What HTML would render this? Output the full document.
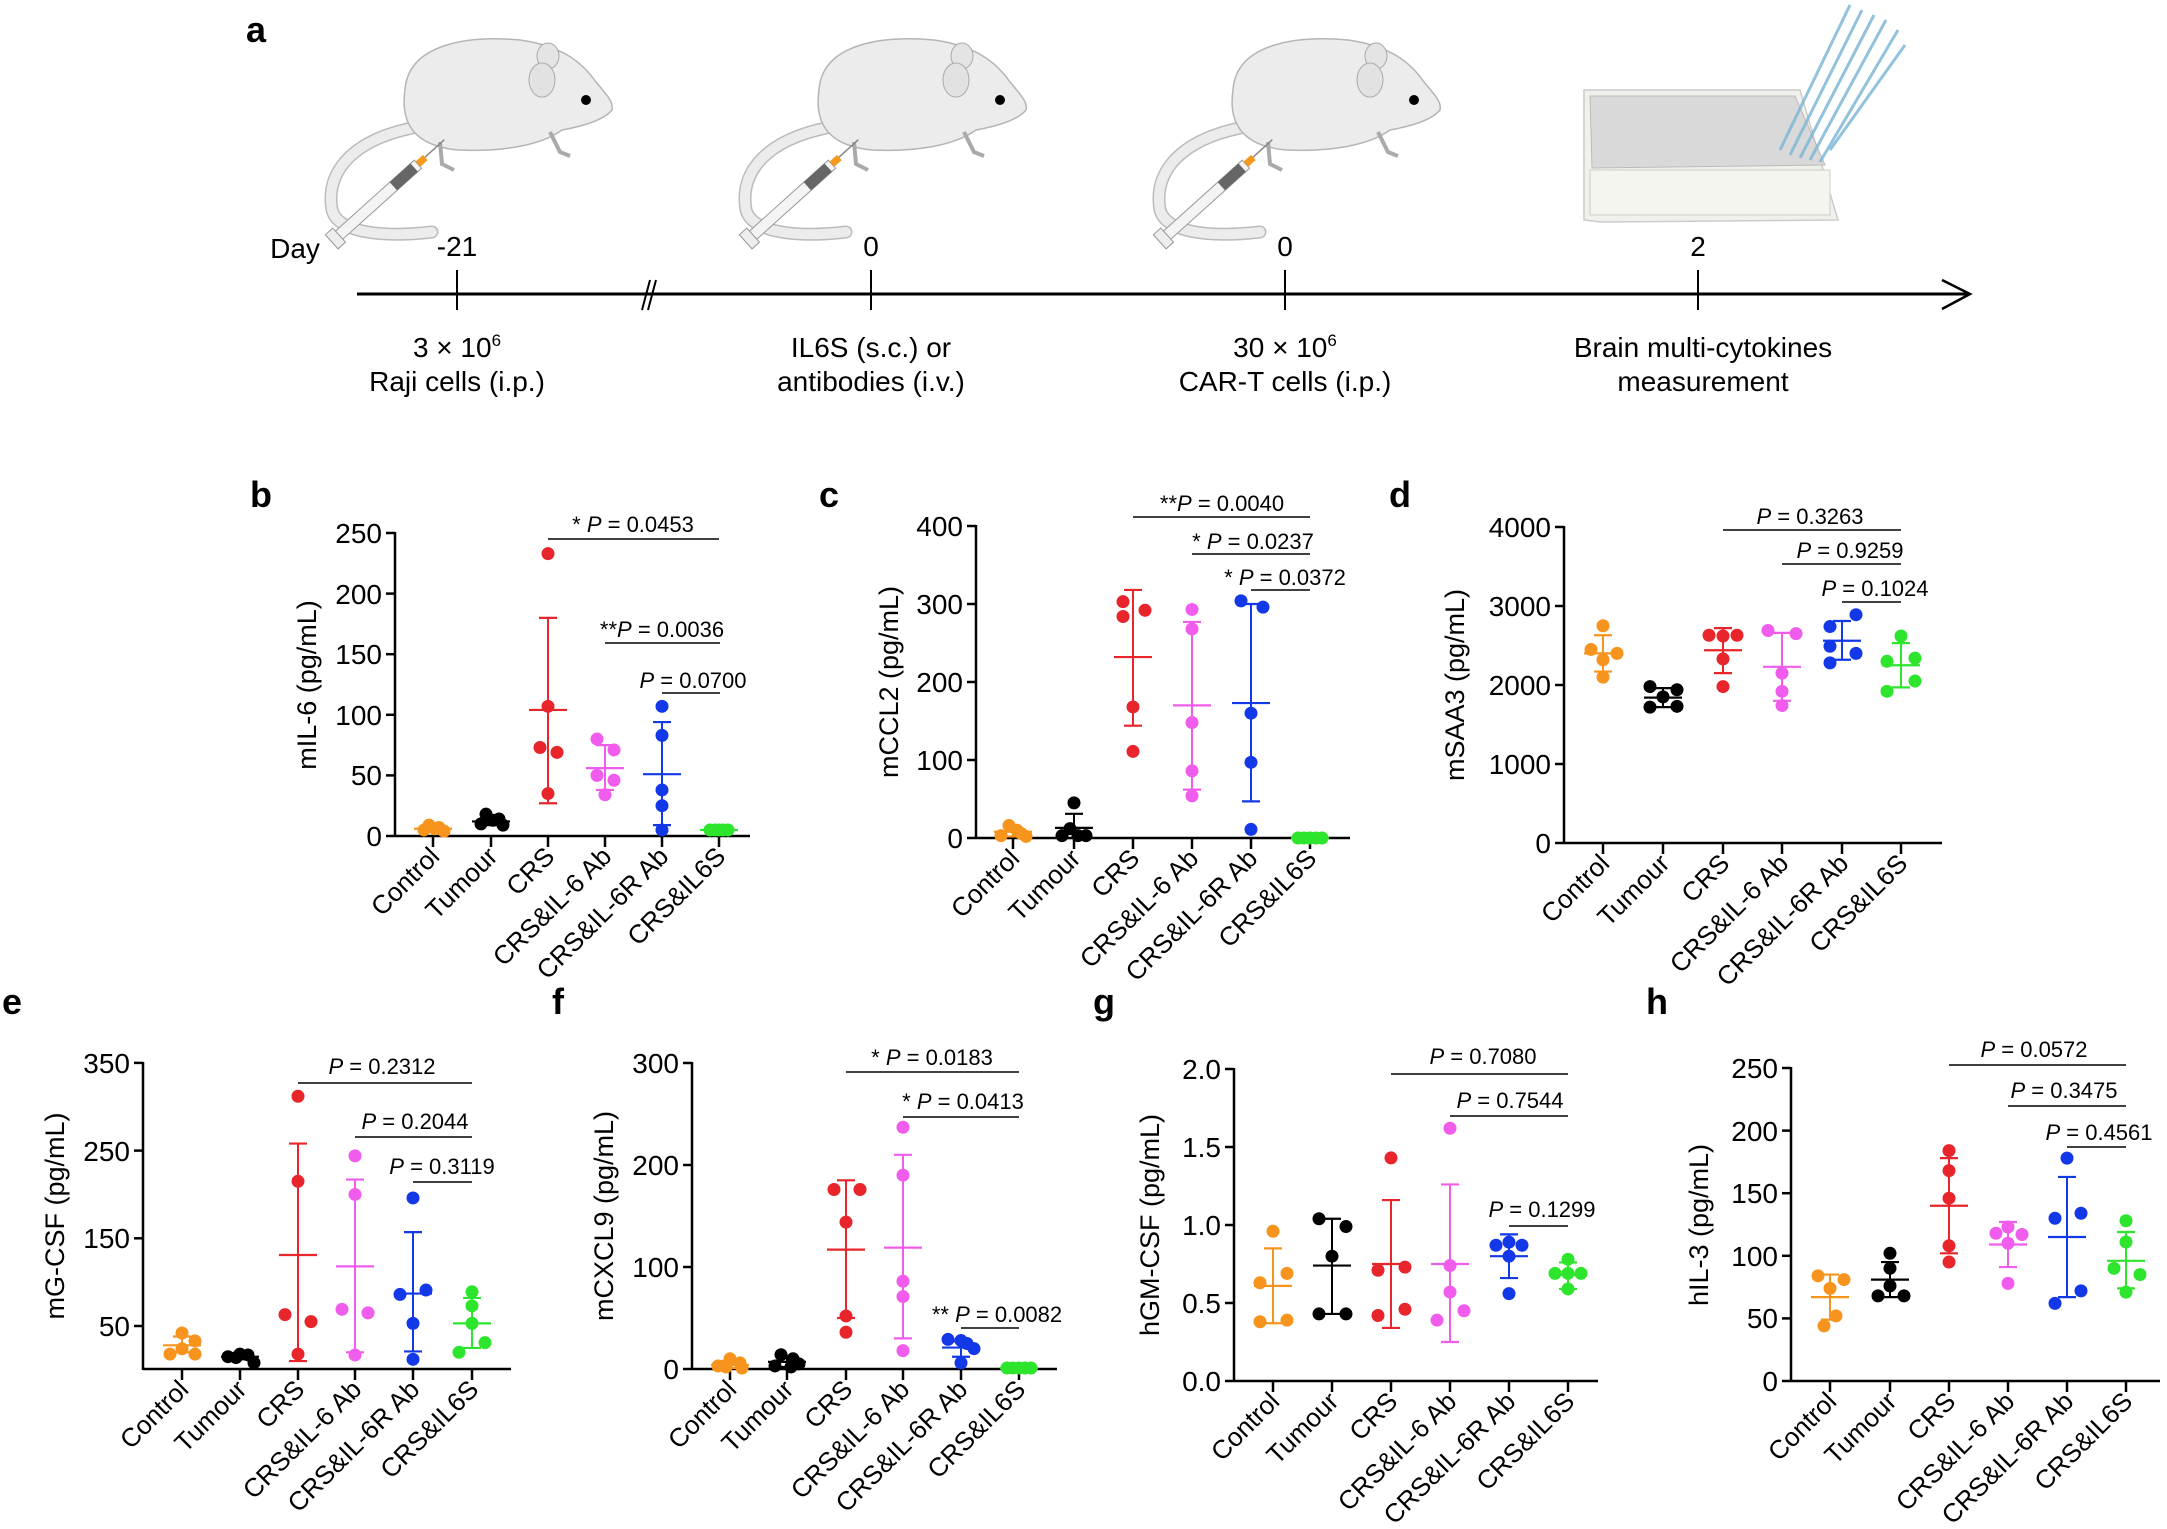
<!DOCTYPE html>
<html><head><meta charset="utf-8"><style>
html,body{margin:0;padding:0;background:#fff;}
svg{display:block;font-family:"Liberation Sans",Arial,sans-serif;}
.tk{font-size:28px;text-anchor:end;}
.yl{font-size:27px;text-anchor:middle;}
.cl{font-size:26px;text-anchor:end;}
.pv{font-size:22px;text-anchor:middle;}
.lt{font-size:36px;font-weight:bold;}
.tl{font-size:28px;text-anchor:middle;}
</style></head><body>
<svg id="s" width="2167" height="1529" viewBox="0 0 2167 1529" xmlns="http://www.w3.org/2000/svg">
<defs>
<g id="mouse">
 <path d="M412,128 C355,140 325,170 332,210 C338,232 380,238 432,232" fill="none" stroke="#bbb" stroke-width="13" stroke-linecap="round"/>
 <path d="M412,128 C355,140 325,170 332,210 C338,232 380,238 432,232" fill="none" stroke="#ececec" stroke-width="10" stroke-linecap="round"/>
 <path d="M405,90 C408,45 465,35 520,40 C562,46 582,62 596,82 C606,94 614,102 612,110 C604,120 584,126 562,130 C540,146 500,152 458,150 C415,146 400,124 405,90 Z" fill="#ececec" stroke="#b5b5b5" stroke-width="1.5"/>
 <ellipse cx="548" cy="56" rx="11" ry="13" fill="#e4e4e4" stroke="#aaa"/>
 <ellipse cx="542" cy="80" rx="13" ry="17" fill="#e2e2e2" stroke="#aaa"/>
 <circle cx="586" cy="100" r="5" fill="#000"/>
 <path d="M550,132 l10,20 l10,4 M440,142 l2,22 l12,6" stroke="#aaa" stroke-width="4" fill="none"/>
 <g transform="rotate(-42 390 190)">
  <rect x="322" y="184" width="106" height="11" fill="#f4f4f4" stroke="#999"/>
  <rect x="395" y="184" width="28" height="11" fill="#666"/>
  <rect x="428" y="186" width="10" height="7" fill="#f39a1f"/>
  <line x1="438" y1="189" x2="464" y2="189" stroke="#888" stroke-width="1.5"/>
  <rect x="312" y="180" width="10" height="19" fill="#eee" stroke="#999"/>
 </g>
</g>
</defs>
<text class="lt" x="246" y="42">a</text>
<use href="#mouse"/>
<use href="#mouse" transform="translate(414,0)"/>
<use href="#mouse" transform="translate(828,0)"/>
<path d="M1584,90 L1800,90 L1832,200 L1838,220 L1600,222 L1584,220 Z" fill="#f1f1ec" stroke="#ccc" stroke-width="1.5"/>
<path d="M1590,96 L1795,96 L1825,165 L1592,168 Z" fill="#d9d9d9" stroke="#bbb"/>
<rect x="1590" y="170" width="240" height="45" fill="#f5f5f0" stroke="#ccc"/>
<g stroke="#7fb8d6" stroke-width="3" opacity="0.85">
<line x1="1780" y1="150" x2="1850" y2="5"/><line x1="1790" y1="155" x2="1862" y2="10"/><line x1="1800" y1="158" x2="1874" y2="15"/><line x1="1810" y1="160" x2="1886" y2="20"/><line x1="1820" y1="162" x2="1898" y2="30"/><line x1="1830" y1="150" x2="1905" y2="45"/>
</g>
<line x1="357" y1="294" x2="1969" y2="294" stroke="#000" stroke-width="3"/>
<polyline points="1942,280 1970,294 1942,309" fill="none" stroke="#000" stroke-width="2.5"/>
<g stroke="#000" stroke-width="2"><line x1="457" y1="270" x2="457" y2="310"/><line x1="871" y1="270" x2="871" y2="310"/><line x1="1285" y1="270" x2="1285" y2="310"/><line x1="1698" y1="270" x2="1698" y2="310"/>
<line x1="642" y1="310" x2="650" y2="280"/><line x1="648" y1="310" x2="656" y2="280"/></g>
<text class="tl" x="295" y="258">Day</text>
<text class="tl" x="457" y="256">-21</text><text class="tl" x="871" y="256">0</text><text class="tl" x="1285" y="256">0</text><text class="tl" x="1698" y="256">2</text>
<text class="tl" x="457" y="357">3 × 10<tspan font-size="17" dy="-11">6</tspan></text>
<text class="tl" x="457" y="391">Raji cells (i.p.)</text>
<text class="tl" x="871" y="357">IL6S (s.c.) or</text>
<text class="tl" x="871" y="391">antibodies (i.v.)</text>
<text class="tl" x="1285" y="357">30 × 10<tspan font-size="17" dy="-11">6</tspan></text>
<text class="tl" x="1285" y="391">CAR-T cells (i.p.)</text>
<text class="tl" x="1703" y="357">Brain multi-cytokines</text>
<text class="tl" x="1703" y="391">measurement</text>

<text class="lt" x="250" y="507">b</text><text class="lt" x="819" y="507">c</text><text class="lt" x="1389" y="507">d</text>
<text class="lt" x="2" y="1014">e</text><text class="lt" x="552" y="1014">f</text><text class="lt" x="1093" y="1014">g</text><text class="lt" x="1646" y="1014">h</text>

<text class="yl" transform="translate(316,685) rotate(-90)">mIL-6 (pg/mL)</text>
<text class="yl" transform="translate(898,682) rotate(-90)">mCCL2 (pg/mL)</text>
<text class="yl" transform="translate(1464,685) rotate(-90)">mSAA3 (pg/mL)</text>
<text class="yl" transform="translate(64,1216) rotate(-90)">mG-CSF (pg/mL)</text>
<text class="yl" transform="translate(613,1216) rotate(-90)">mCXCL9 (pg/mL)</text>
<text class="yl" transform="translate(1159,1225) rotate(-90)">hGM-CSF (pg/mL)</text>
<text class="yl" transform="translate(1708,1225) rotate(-90)">hIL-3 (pg/mL)</text>

<g class="tk">
<text x="382" y="846">0</text><text x="382" y="785">50</text><text x="382" y="725">100</text><text x="382" y="664">150</text><text x="382" y="604">200</text><text x="382" y="543">250</text>
<text x="963" y="848">0</text><text x="963" y="770">100</text><text x="963" y="692">200</text><text x="963" y="614">300</text><text x="963" y="536">400</text>
<text x="1551" y="853">0</text><text x="1551" y="774">1000</text><text x="1551" y="695">2000</text><text x="1551" y="616">3000</text><text x="1551" y="537">4000</text>
<text x="130" y="1336">50</text><text x="130" y="1248">150</text><text x="130" y="1161">250</text><text x="130" y="1073">350</text>
<text x="679" y="1379">0</text><text x="679" y="1277">100</text><text x="679" y="1175">200</text><text x="679" y="1073">300</text>
<text x="1221" y="1391">0.0</text><text x="1221" y="1313">0.5</text><text x="1221" y="1235">1.0</text><text x="1221" y="1157">1.5</text><text x="1221" y="1079">2.0</text>
<text x="1778" y="1391">0</text><text x="1778" y="1328">50</text><text x="1778" y="1266">100</text><text x="1778" y="1203">150</text><text x="1778" y="1141">200</text><text x="1778" y="1078">250</text>
</g>

<g class="cl">
<text transform="translate(441,858) rotate(-45)">Control</text><text transform="translate(499,858) rotate(-45)">Tumour</text><text transform="translate(556,858) rotate(-45)">CRS</text><text transform="translate(613,858) rotate(-45)">CRS&amp;IL-6 Ab</text><text transform="translate(670,858) rotate(-45)">CRS&amp;IL-6R Ab</text><text transform="translate(727,858) rotate(-45)">CRS&amp;IL6S</text>
<text transform="translate(1021,860) rotate(-45)">Control</text><text transform="translate(1082,860) rotate(-45)">Tumour</text><text transform="translate(1141,860) rotate(-45)">CRS</text><text transform="translate(1200,860) rotate(-45)">CRS&amp;IL-6 Ab</text><text transform="translate(1259,860) rotate(-45)">CRS&amp;IL-6R Ab</text><text transform="translate(1318,860) rotate(-45)">CRS&amp;IL6S</text>
<text transform="translate(1611,865) rotate(-45)">Control</text><text transform="translate(1671,865) rotate(-45)">Tumour</text><text transform="translate(1731,865) rotate(-45)">CRS</text><text transform="translate(1790,865) rotate(-45)">CRS&amp;IL-6 Ab</text><text transform="translate(1850,865) rotate(-45)">CRS&amp;IL-6R Ab</text><text transform="translate(1909,865) rotate(-45)">CRS&amp;IL6S</text>
<text transform="translate(190,1391) rotate(-45)">Control</text><text transform="translate(248,1391) rotate(-45)">Tumour</text><text transform="translate(306,1391) rotate(-45)">CRS</text><text transform="translate(363,1391) rotate(-45)">CRS&amp;IL-6 Ab</text><text transform="translate(421,1391) rotate(-45)">CRS&amp;IL-6R Ab</text><text transform="translate(480,1391) rotate(-45)">CRS&amp;IL6S</text>
<text transform="translate(738,1391) rotate(-45)">Control</text><text transform="translate(795,1391) rotate(-45)">Tumour</text><text transform="translate(854,1391) rotate(-45)">CRS</text><text transform="translate(911,1391) rotate(-45)">CRS&amp;IL-6 Ab</text><text transform="translate(969,1391) rotate(-45)">CRS&amp;IL-6R Ab</text><text transform="translate(1027,1391) rotate(-45)">CRS&amp;IL6S</text>
<text transform="translate(1281,1403) rotate(-45)">Control</text><text transform="translate(1340,1403) rotate(-45)">Tumour</text><text transform="translate(1399,1403) rotate(-45)">CRS</text><text transform="translate(1458,1403) rotate(-45)">CRS&amp;IL-6 Ab</text><text transform="translate(1517,1403) rotate(-45)">CRS&amp;IL-6R Ab</text><text transform="translate(1576,1403) rotate(-45)">CRS&amp;IL6S</text>
<text transform="translate(1838,1403) rotate(-45)">Control</text><text transform="translate(1898,1403) rotate(-45)">Tumour</text><text transform="translate(1957,1403) rotate(-45)">CRS</text><text transform="translate(2016,1403) rotate(-45)">CRS&amp;IL-6 Ab</text><text transform="translate(2075,1403) rotate(-45)">CRS&amp;IL-6R Ab</text><text transform="translate(2134,1403) rotate(-45)">CRS&amp;IL6S</text>
</g>

<g class="pv">
<text x="633" y="532">* <tspan font-style="italic">P</tspan> = 0.0453</text>
<text x="662" y="637">**<tspan font-style="italic">P</tspan> = 0.0036</text>
<text x="693" y="688"><tspan font-style="italic">P</tspan> = 0.0700</text>
<text x="1222" y="511">**<tspan font-style="italic">P</tspan> = 0.0040</text>
<text x="1253" y="549">* <tspan font-style="italic">P</tspan> = 0.0237</text>
<text x="1285" y="585">* <tspan font-style="italic">P</tspan> = 0.0372</text>
<text x="1810" y="524"><tspan font-style="italic">P</tspan> = 0.3263</text>
<text x="1850" y="558"><tspan font-style="italic">P</tspan> = 0.9259</text>
<text x="1875" y="596"><tspan font-style="italic">P</tspan> = 0.1024</text>
<text x="382" y="1074"><tspan font-style="italic">P</tspan> = 0.2312</text>
<text x="415" y="1129"><tspan font-style="italic">P</tspan> = 0.2044</text>
<text x="442" y="1174"><tspan font-style="italic">P</tspan> = 0.3119</text>
<text x="932" y="1065">* <tspan font-style="italic">P</tspan> = 0.0183</text>
<text x="963" y="1109">* <tspan font-style="italic">P</tspan> = 0.0413</text>
<text x="997" y="1322">** <tspan font-style="italic">P</tspan> = 0.0082</text>
<text x="1483" y="1064"><tspan font-style="italic">P</tspan> = 0.7080</text>
<text x="1510" y="1108"><tspan font-style="italic">P</tspan> = 0.7544</text>
<text x="1542" y="1217"><tspan font-style="italic">P</tspan> = 0.1299</text>
<text x="2034" y="1057"><tspan font-style="italic">P</tspan> = 0.0572</text>
<text x="2064" y="1098"><tspan font-style="italic">P</tspan> = 0.3475</text>
<text x="2099" y="1140"><tspan font-style="italic">P</tspan> = 0.4561</text>
</g>
<g id="gfx"></g>
</svg>
<script>
var C=["#f7941d","#000","#e8252a","#f05cec","#1238e8","#2ee52e"];
var P=[
{ax:395,y0:836,base:0,k:1.212,top:533,bot:836,end:750,ticks:[0,50,100,150,200,250],cats:[433,491,548,605,662,719],
 sig:[[539,548,719],[643,605,720],[693,662,720]],
 d:[[[-9,5],[-4,9],[2,6],[6,7],[11,4]],[[-10,10],[-5,18],[2,13],[8,14],[12,9]],[[0,233],[0,107],[-8,73],[9,69],[0,35]],[[-8,80],[9,71],[-8,50],[9,46],[0,34]],[[0,107],[0,83],[0,38],[0,25],[0,5]],[[-9,5],[-4,5],[0,5],[4,5],[9,5]]],
 m:[[6,4,8],[12,9,15],[104,27,180],[56,38,75],[51,9,94],[5,5,5]]},
{ax:976,y0:838,base:0,k:0.78,top:526,bot:838,end:1350,ticks:[0,100,200,300,400],cats:[1013,1074,1133,1192,1251,1310],
 sig:[[517,1133,1310],[554,1192,1310],[590,1251,1310]],
 d:[[[-12,3],[-4,16],[4,10],[8,6],[13,2]],[[0,45],[-4,12],[-12,3],[4,3],[12,3]],[[-10,303],[-10,284],[12,292],[0,168],[0,111]],[[0,293],[0,268],[0,148],[0,86],[0,54]],[[-10,304],[12,296],[0,160],[0,97],[0,11]],[[-12,0],[-6,0],[0,0],[6,0],[12,0]]],
 m:[[8,2,14],[13,0,31],[232,144,318],[170,62,277],[173,47,300],[0,0,0]]},
{ax:1564,y0:843,base:0,k:0.079,top:527,bot:843,end:1942,ticks:[0,1000,2000,3000,4000],cats:[1603,1663,1723,1782,1842,1901],
 sig:[[530,1723,1901],[564,1782,1901],[602,1842,1901]],
 d:[[[0,2750],[-12,2450],[14,2400],[0,2320],[0,2100]],[[-13,1980],[14,1940],[0,1850],[-13,1720],[14,1730]],[[-14,2630],[0,2620],[14,2630],[0,2330],[0,1980]],[[-14,2690],[14,2650],[0,2150],[0,1920],[0,1740]],[[-12,2740],[14,2890],[-12,2490],[14,2400],[-12,2280]],[[0,2620],[-14,2300],[14,2340],[14,2050],[-14,1920]]],
 m:[[2400,2170,2630],[1840,1720,1960],[2440,2150,2720],[2230,1800,2660],[2560,2320,2810],[2250,1970,2530]]},
{ax:143,y0:1326,base:50,k:0.877,top:1063,bot:1369,end:511,ticks:[50,150,250,350],cats:[182,240,298,355,413,472],
 sig:[[1083,298,472],[1137,355,472],[1182,413,472]],
 d:[[[0,42],[-12,18],[13,33],[0,24],[13,18]],[[-12,15],[0,18],[8,17],[14,8],[-4,14]],[[0,312],[0,215],[-13,63],[13,55],[0,18]],[[0,244],[0,200],[-13,69],[13,65],[0,17]],[[0,196],[-13,86],[13,91],[0,53],[0,12]],[[0,89],[0,73],[0,53],[13,31],[-13,20]]],
 m:[[28,20,38],[15,12,18],[131,10,258],[118,20,217],[87,21,157],[53,25,82]]},
{ax:692,y0:1369,base:0,k:1.02,top:1063,bot:1369,end:1057,ticks:[0,100,200,300],cats:[730,787,846,903,961,1019],
 sig:[[1072,846,1019],[1117,903,1019],[1328,961,1019]],
 d:[[[0,10],[-12,3],[10,6],[-4,2],[12,1]],[[-6,14],[6,10],[-12,3],[4,2],[12,5]],[[-12,176],[14,176],[0,144],[0,52],[0,36]],[[0,237],[0,190],[0,86],[0,71],[0,18]],[[-13,29],[0,28],[6,25],[13,20],[0,6]],[[-12,1],[-6,1],[0,1],[6,1],[12,1]]],
 m:[[4,1,8],[7,2,12],[117,50,185],[119,30,210],[21,12,27],[1,1,1]]},
{ax:1234,y0:1381,base:0,k:156,top:1069,bot:1381,end:1598,ticks:[0,0.5,1,1.5,2],cats:[1273,1332,1391,1450,1509,1568],
 sig:[[1074,1391,1568],[1116,1450,1568],[1226,1509,1568]],
 d:[[[0,0.96],[-13,0.63],[14,0.69],[-13,0.38],[14,0.39]],[[-13,1.04],[14,0.99],[0,0.8],[-13,0.43],[14,0.43]],[[0,1.43],[-13,0.71],[14,0.73],[-13,0.42],[14,0.46]],[[0,1.62],[0,0.74],[0,0.57],[-13,0.39],[14,0.45]],[[-13,0.87],[0,0.89],[13,0.87],[0,0.8],[0,0.56]],[[0,0.78],[-13,0.69],[0,0.69],[13,0.69],[0,0.59]]],
 m:[[0.61,0.37,0.85],[0.74,0.43,1.04],[0.75,0.34,1.16],[0.75,0.25,1.26],[0.8,0.66,0.94],[0.68,0.59,0.76]]},
{ax:1791,y0:1381,base:0,k:1.252,top:1068,bot:1381,end:2160,ticks:[0,50,100,150,200,250],cats:[1830,1890,1949,2008,2067,2126],
 sig:[[1065,1949,2126],[1106,2008,2126],[1147,2067,2126]],
 d:[[[-12,84],[14,81],[0,74],[6,52],[-6,44]],[[0,102],[0,90],[0,76],[-12,68],[14,68]],[[0,184],[0,168],[0,146],[0,108],[0,95]],[[-12,118],[0,123],[14,117],[0,110],[0,78]],[[0,178],[14,134],[-12,130],[14,72],[-12,62]],[[0,128],[0,111],[-12,90],[14,85],[0,71]]],
 m:[[67,49,85],[81,67,95],[140,102,178],[109,91,127],[115,67,163],[96,74,119]]}
];
var h='';
function L(x1,y1,x2,y2,c,w){h+='<line x1="'+x1+'" y1="'+y1+'" x2="'+x2+'" y2="'+y2+'" stroke="'+c+'" stroke-width="'+w+'"/>';}
P.forEach(function(p){
 function Y(v){return p.y0-(v-p.base)*p.k;}
 L(p.ax,p.top-1,p.ax,p.bot+1,'#000',2.5);
 L(p.ax,p.bot,p.end,p.bot,'#000',2.5);
 p.ticks.forEach(function(t){var y=Y(t);L(p.ax-9,y,p.ax,y,'#000',2.5);});
 p.cats.forEach(function(x){L(x,p.bot,x,p.bot+11,'#000',2.5);});
 p.sig.forEach(function(s){L(s[1],s[0],s[2],s[0],'#000',1.6);});
 p.d.forEach(function(g,i){
  var cx=p.cats[i];
  g.forEach(function(pt){h+='<circle cx="'+(cx+pt[0])+'" cy="'+Y(pt[1])+'" r="6.5" fill="'+C[i]+'"/>';});
 });
 p.m.forEach(function(m,i){
  var cx=p.cats[i],c=C[i];
  L(cx,Y(m[1]),cx,Y(m[2]),c,2);
  L(cx-19,Y(m[0]),cx+19,Y(m[0]),c,2.2);
  L(cx-9,Y(m[1]),cx+9,Y(m[1]),c,2.2);
  L(cx-9,Y(m[2]),cx+9,Y(m[2]),c,2.2);
 });
});
document.getElementById('gfx').innerHTML=h;
</script>
</body></html>
